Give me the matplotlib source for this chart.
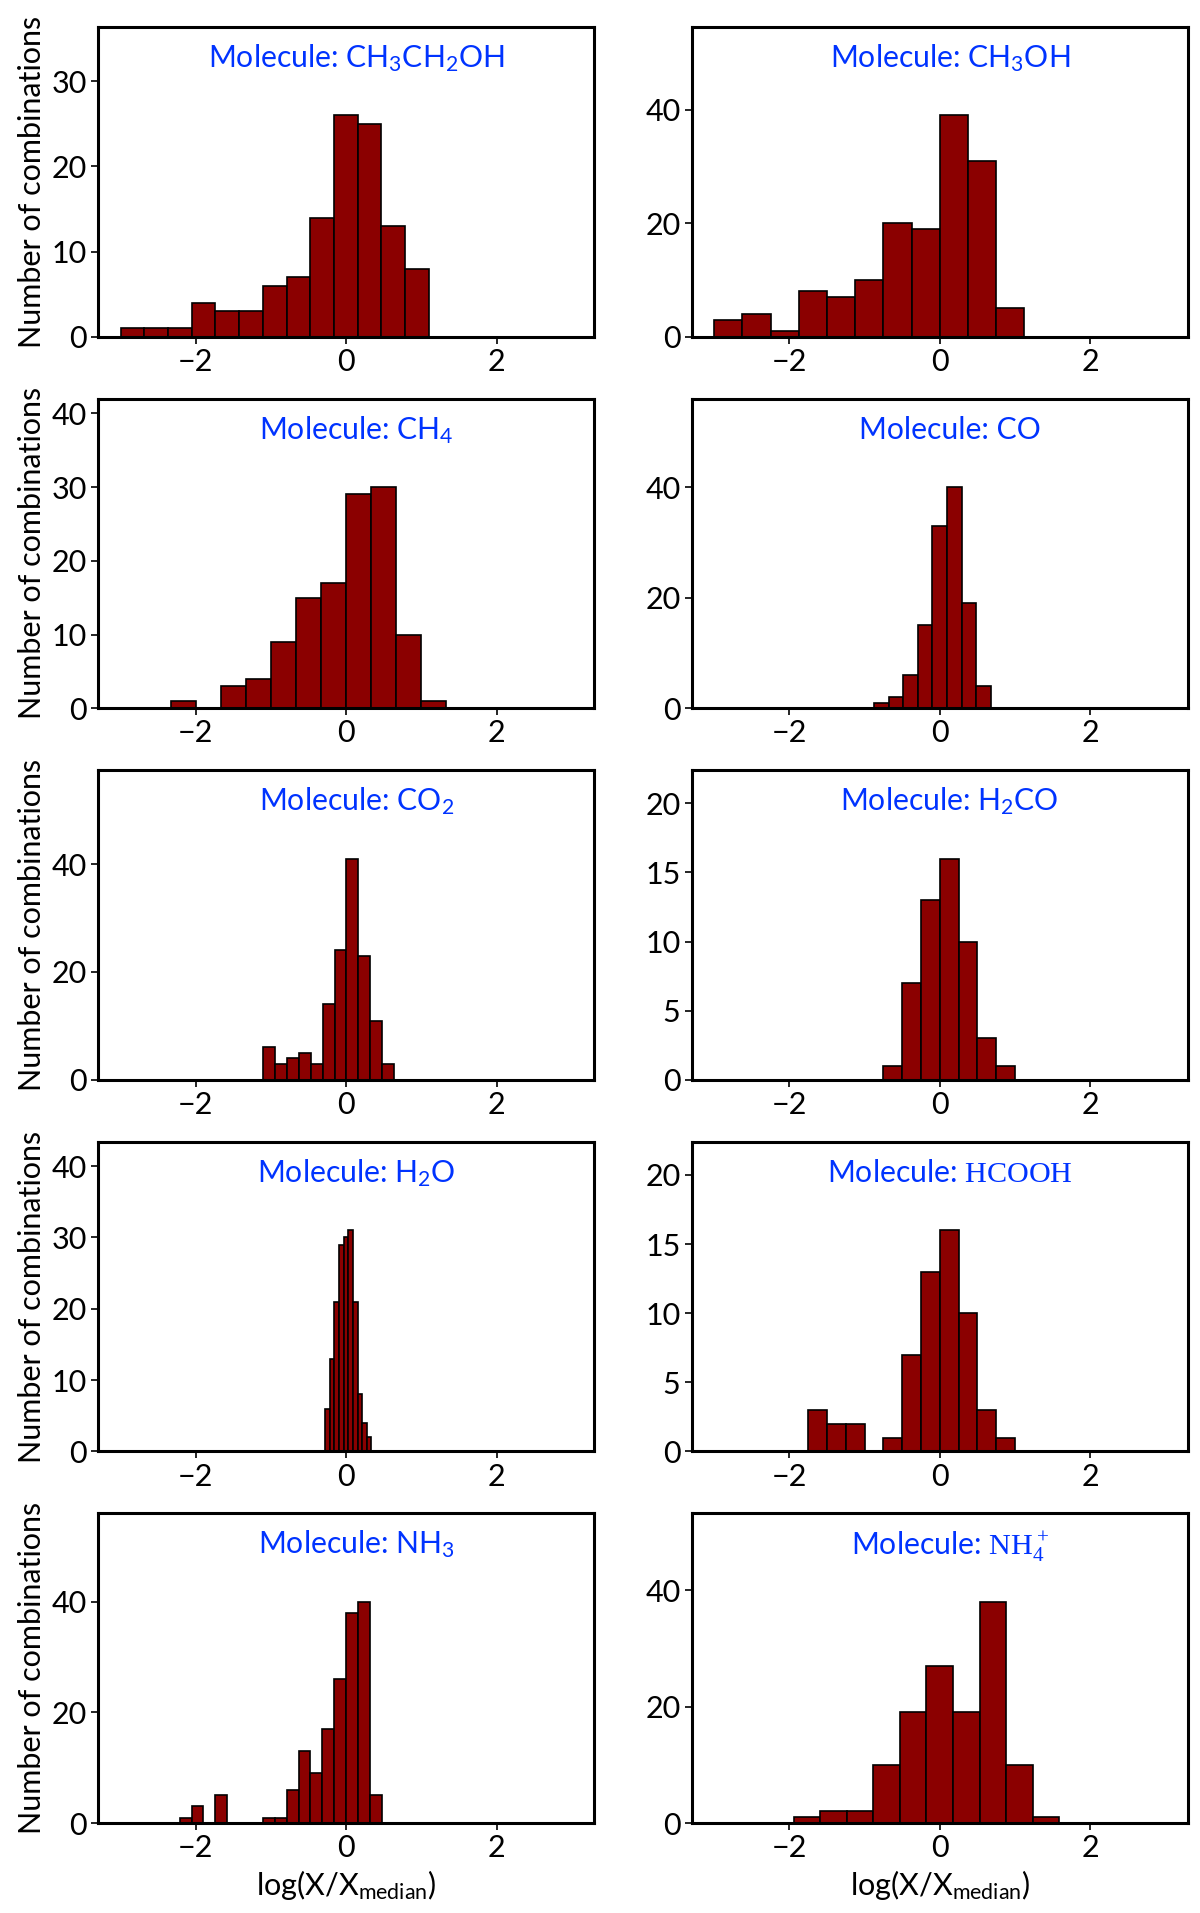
import numpy as np
import matplotlib
matplotlib.use("Agg")
import matplotlib.pyplot as plt
from matplotlib.ticker import MultipleLocator

#### Data ####
# per molecule: first bin edge, last bin edge, counts per bin

titles = [r'Molecule: CH$_3$CH$_2$OH', r'Molecule: CH$_3$OH',
          r'Molecule: CH$_4$', r'Molecule: CO',
          r'Molecule: CO$_2$', r'Molecule: H$_2$CO',
          r'Molecule: H$_2$O', r'Molecule: $\mathrm{HCOOH}$',
          r'Molecule: NH$_3$', r'Molecule: $\mathrm{NH_4^+}$']

bin_lo = [-3.00, -3.00, -2.336, -0.875, -1.104, -0.75, -0.28, -1.75, -2.214, -1.944]
bin_hi = [1.10, 1.125, 1.333, 0.677, 0.636, 1.00, 0.336, 1.00, 0.473, 1.588]

counts_ch3ch2oh = [1, 1, 1, 4, 3, 3, 6, 7, 14, 26, 25, 13, 8]
counts_ch3oh = [3, 4, 1, 8, 7, 10, 20, 19, 39, 31, 5]
counts_ch4 = [1, 0, 3, 4, 9, 15, 17, 29, 30, 10, 1]
counts_co = [1, 2, 6, 15, 33, 40, 19, 4]
counts_co2 = [6, 3, 4, 5, 3, 14, 24, 41, 23, 11, 3]
counts_h2co = [1, 7, 13, 16, 10, 3, 1]
counts_h2o = [6, 13, 21, 29, 30, 31, 21, 8, 4, 2]
counts_hcooh = [3, 2, 2, 0, 1, 7, 13, 16, 10, 3, 1]
counts_nh3 = [1, 3, 0, 5, 0, 0, 0, 1, 1, 6, 13, 9, 17, 26, 38, 40, 5]
counts_nh4 = [1, 2, 2, 10, 19, 27, 19, 38, 10, 1]

all_counts = [counts_ch3ch2oh, counts_ch3oh, counts_ch4, counts_co, counts_co2,
              counts_h2co, counts_h2o, counts_hcooh, counts_nh3, counts_nh4]
ytick_step = [10, 20, 10, 20, 20, 5, 10, 5, 20, 20]

#### Style ####
plt.rcParams['font.family'] = ['Lato', 'DejaVu Sans']
plt.rcParams['mathtext.fontset'] = 'custom'
plt.rcParams['mathtext.rm'] = 'Liberation Serif'
plt.rcParams['mathtext.default'] = 'regular'

fig, axes = plt.subplots(5, 2, figsize=(12, 19.13), dpi=100)
fig.subplots_adjust(left=0.0817, right=0.99, top=0.9859, bottom=0.047,
                    wspace=0.196, hspace=0.2)

for i, ax in enumerate(axes.flat):
    cnt = np.array(all_counts[i], dtype=float)
    edges = np.linspace(bin_lo[i], bin_hi[i], len(cnt) + 1)
    centers = 0.5 * (edges[:-1] + edges[1:])
    ax.hist(centers, bins=edges, weights=cnt, color='#8b0000',
            edgecolor='black', linewidth=1.2)
    ax.set_xlim(-3.3, 3.3)
    ax.set_ylim(0, 1.4 * cnt.max())
    ax.set_xticks([-2, 0, 2])
    ax.yaxis.set_major_locator(MultipleLocator(ytick_step[i]))
    ax.tick_params(labelsize=22, width=1.2, length=5, pad=3)
    for sp in ax.spines.values():
        sp.set_linewidth(2.2)
    ax.text(0.52, 0.87, titles[i], transform=ax.transAxes, ha='center',
            va='baseline', color='#0033ff', fontsize=21.7)
    if i % 2 == 0:
        ax.set_ylabel('Number of combinations', fontsize=22, labelpad=4)
    if i >= 8:
        ax.set_xlabel(r'log(X/X$_{median}$)', fontsize=22, labelpad=4)

fig.savefig('out.png', dpi=100)
